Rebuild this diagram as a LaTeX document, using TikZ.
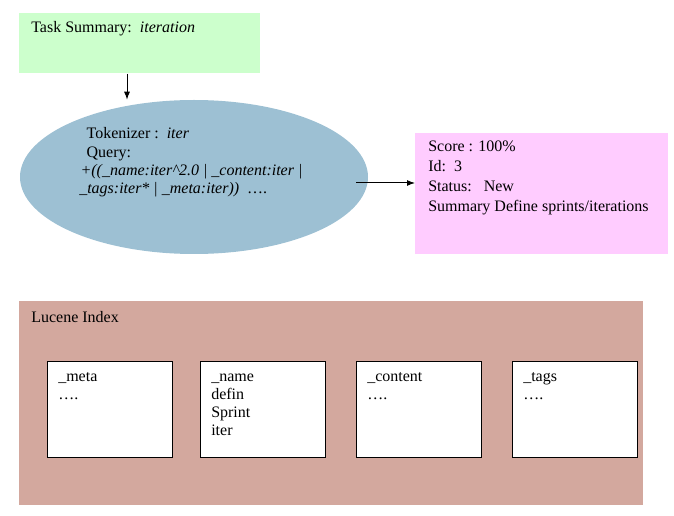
\documentclass[tikz,border=0pt]{standalone}
\usepackage{fontspec}
\setmainfont{Liberation Serif}
\usetikzlibrary{arrows.meta,shapes.geometric}

\definecolor{taskgreen}{RGB}{204,255,204}
\definecolor{queryblue}{RGB}{157,192,211}
\definecolor{resultpink}{RGB}{255,204,255}
\definecolor{indexbrown}{RGB}{211,168,158}

\begin{document}
\begin{tikzpicture}[
  x = 0.75pt,
  y = -0.75pt,
  every node/.style = {
    font = \fontsize{12}{15}\selectfont
  },
  panel/.style = {
    shape = rectangle,
    inner sep = 0pt,
    anchor = north west
  },
  field/.style = {
    panel,
    draw = black,
    line width = 1pt,
    fill = white,
    minimum width = 125*0.75pt,
    minimum height = 96*0.75pt
  },
  % text is placed at the baseline of its last line
  txt/.style = {
    inner sep = 0pt,
    anchor = base west,
    align = left
  },
  fieldtxt/.style = {
    txt,
    font = \fontsize{12}{13.5}\selectfont
  },
  arr/.style = {
    -{Latex[length = 6pt, width = 4.5pt]},
    line width = 0.75pt
  }
]
  \useasboundingbox (0, 0) rectangle (674, 516);

  % task summary
  \node[panel, fill = taskgreen, minimum width = 241*0.75pt,
    minimum height = 60*0.75pt] (task) at (19, 13) {};
  \node[txt] (tasktxt) at (31, 33) {Task Summary:\ \ \textit{iteration}};

  % query ellipse
  \node[ellipse, fill = queryblue, inner sep = 0pt,
    minimum width = 348*0.75pt, minimum height = 154*0.75pt] (query) at (194, 177) {};
  \node[txt, font = \fontsize{12}{13.75}\selectfont] (querytxt) at (79, 194) {%
    \hspace{5.5pt}Tokenizer :\ \ \textit{iter}\\
    \hspace{5.5pt}Query:\\
    \hspace{1pt}\textit{+((\_name:iter\textasciicircum 2.0 | \_content:iter |}\\
    \textit{\_tags:iter* | \_meta:iter))}\ \ ….};

  % result
  \node[panel, fill = resultpink, minimum width = 253*0.75pt,
    minimum height = 121*0.75pt] (result) at (415, 133) {};
  \node[txt] (resulttxt) at (428, 212) {%
    Score : 100\%\\
    Id:\ \ 3\\
    Status:\ \ \ New\\
    Summary Define sprints/iterations};

  \draw[arr] (task.south -| 127, 0) -- (query.north -| 127, 0);
  \coordinate (qout) at (356, 183);
  \draw[arr] (qout) -- (qout -| result.west);

  % lucene index
  \node[panel, fill = indexbrown, minimum width = 624*0.75pt,
    minimum height = 204*0.75pt] (index) at (19, 301) {};
  \node[txt] (indextxt) at (31, 323) {Lucene Index};

  \node[field] (meta) at (47, 361) {};
  \node[field] (name) at (200, 361) {};
  \node[field] (content) at (356, 361) {};
  \node[field] (tags) at (512, 361) {};

  \node[fieldtxt] (metatxt) at (58, 399) {\_meta\\….};
  \node[fieldtxt] (nametxt) at (211, 435) {\_name\\defin\\Sprint\\iter};
  \node[fieldtxt] (contenttxt) at (367, 399) {\_content\\….};
  \node[fieldtxt] (tagstxt) at (523, 399) {\_tags\\….};
\end{tikzpicture}
\end{document}
